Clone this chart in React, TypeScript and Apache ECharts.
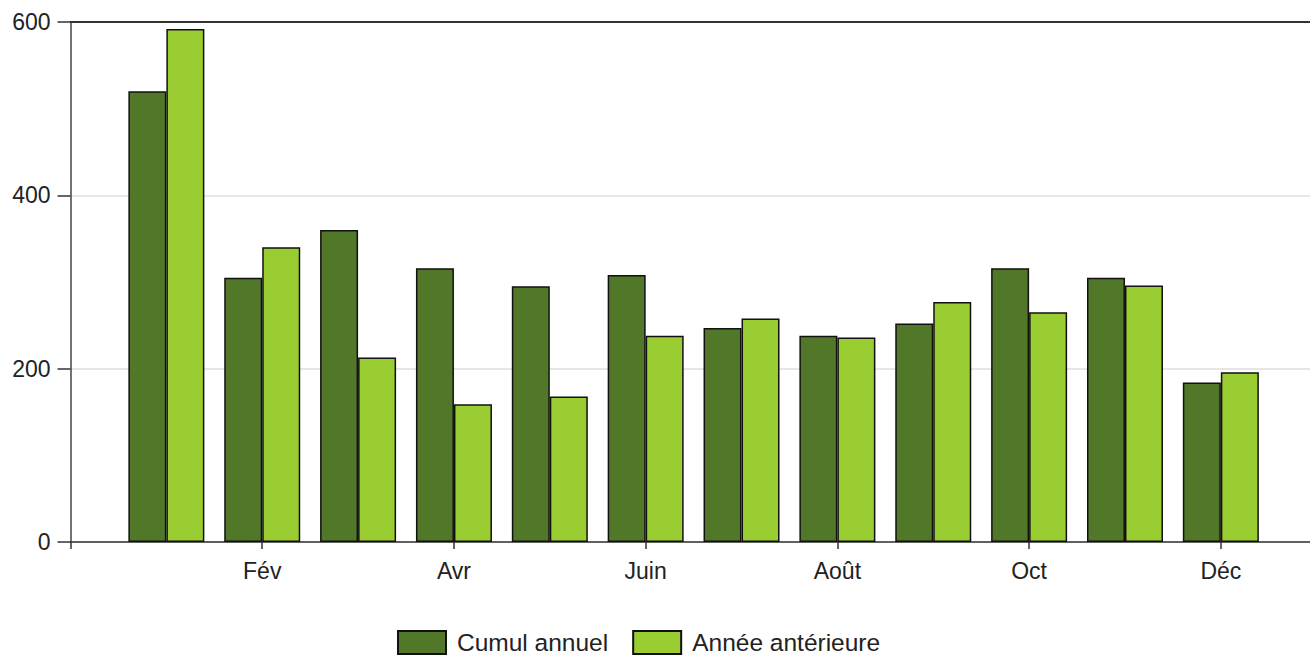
import React, { useEffect, useRef } from "react";
import * as echarts from "echarts";

// Month names; only even months get a label on the axis
const months = ["Jan", "Fév", "Mar", "Avr", "Mai", "Juin", "Juil", "Août", "Sep", "Oct", "Nov", "Déc"];
const cumulAnnuel = [520, 305, 360, 316, 295, 308, 247, 238, 252, 316, 305, 184];
const anneeAnterieure = [592, 340, 213, 159, 168, 238, 258, 236, 277, 265, 296, 196];
const yTicks = [0, 200, 400, 600];

const FONT = "'Liberation Sans', Arial, sans-serif";

export default function App() {
  const ref = useRef<HTMLDivElement>(null);

  useEffect(() => {
    if (!ref.current) return;
    const chart = echarts.init(ref.current, null, { renderer: "svg" });
    const pairs = (vals: number[]) => vals.map((v, i) => [i + 1, v]);

    chart.setOption({
      animation: false,
      backgroundColor: "#ffffff",
      textStyle: { fontFamily: FONT },
      // the plot runs past the right edge so that the last month keeps its full width
      grid: {
        left: 70.5,
        width: 1246.2,
        top: 22,
        bottom: 114,
        outerBoundsMode: "none",
        containLabel: false,
      },
      legend: {
        left: 397,
        top: 630,
        padding: 0,
        icon: "rect",
        itemWidth: 48,
        itemHeight: 23,
        itemGap: 24,
        textStyle: { fontSize: 24.5, lineHeight: 20, color: "#222", fontFamily: FONT, padding: [0, 0, 0, 6] },
        data: ["Cumul annuel", "Année antérieure"],
      },
      xAxis: [
        {
          type: "value",
          min: 0,
          max: 13,
          interval: 2,
          axisLine: { show: true, lineStyle: { color: "#333", width: 1.5 } },
          axisTick: { show: true, length: 7, lineStyle: { color: "#333", width: 1.5 } },
          splitLine: { show: false },
          axisLabel: {
            fontSize: 23,
            color: "#222",
            fontFamily: FONT,
            margin: 17,
            formatter: (v: number) => (v > 0 && v <= months.length ? months[v - 1] : ""),
          },
        },
        {
          type: "value",
          position: "top",
          min: 0,
          max: 13,
          axisLine: { show: true, onZero: false, lineStyle: { color: "#333", width: 2 } },
          axisTick: { show: false },
          axisLabel: { show: false },
          splitLine: { show: false },
        },
      ],
      yAxis: {
        type: "value",
        min: yTicks[0],
        max: yTicks[yTicks.length - 1],
        interval: 200,
        axisLine: { show: true, lineStyle: { color: "#444", width: 1.5 } },
        axisTick: { show: true, length: 13, lineStyle: { color: "#333", width: 1.5 } },
        axisLabel: { fontSize: 23, color: "#222", fontFamily: FONT, margin: 20 },
        splitLine: { show: true, lineStyle: { color: "#dedede", width: 1.5 } },
      },
      series: [
        {
          name: "Cumul annuel",
          type: "bar",
          barWidth: 38,
          barGap: "0%",
          data: pairs(cumulAnnuel),
          itemStyle: { color: "#507828", borderColor: "#111", borderWidth: 1.5 },
        },
        {
          name: "Année antérieure",
          type: "bar",
          barWidth: 38,
          barGap: "0%",
          data: pairs(anneeAnterieure),
          itemStyle: { color: "#9acd32", borderColor: "#111", borderWidth: 1.5 },
        },
      ],
    });

    return () => chart.dispose();
  }, []);

  return (
    <div
      ref={ref}
      style={{ position: "absolute", left: 0, top: 0, width: 1310, height: 656 }}
    />
  );
}
